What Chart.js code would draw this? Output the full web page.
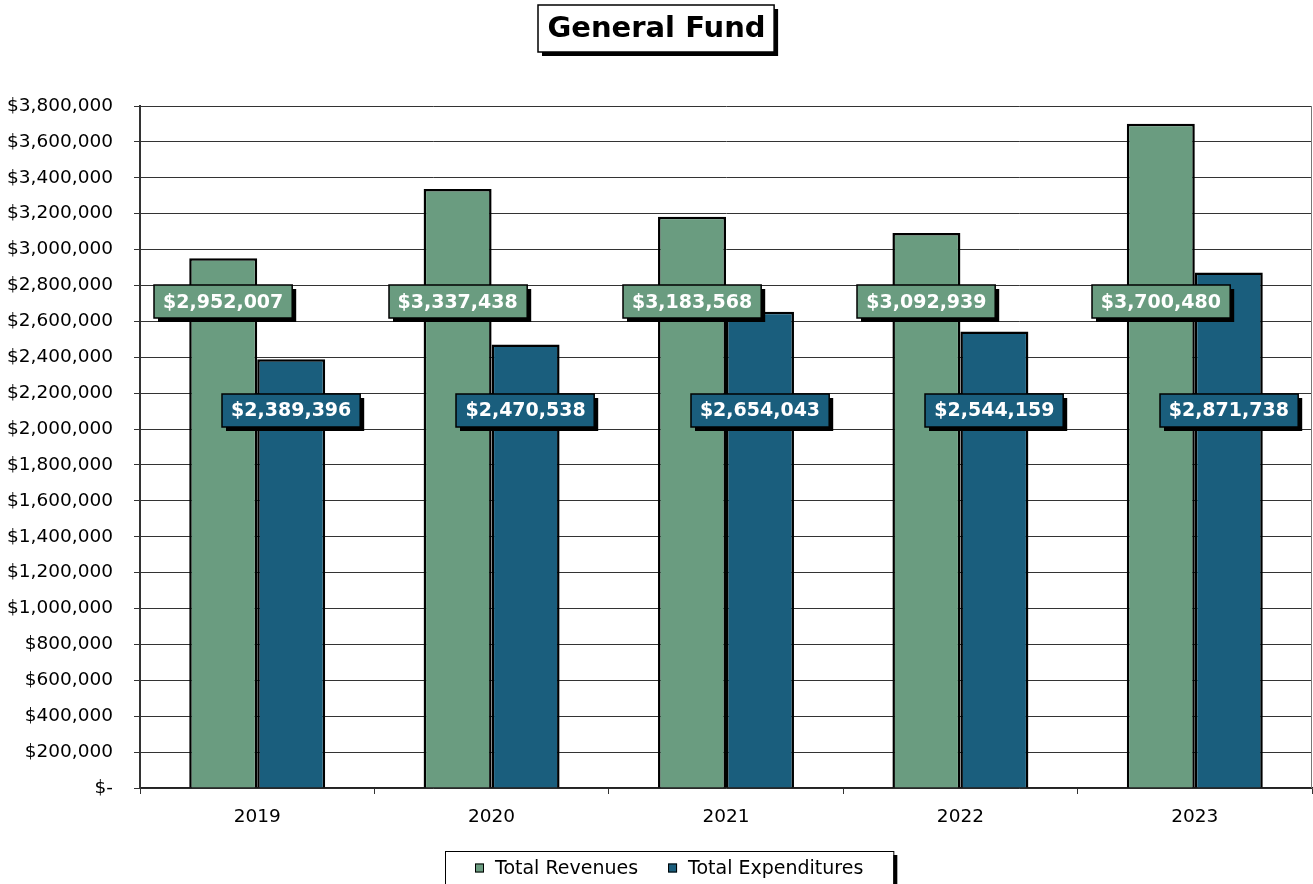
<!DOCTYPE html>
<html>
<head>
<meta charset="utf-8">
<title>General Fund</title>
<script src="https://cdn.jsdelivr.net/npm/chart.js@4"></script>
<style>
  html, body { margin: 0; padding: 0; background: #fff; }
  #wrap { width: 1313px; height: 884px; }
</style>
</head>
<body>
<div id="wrap"><canvas id="fundChart" width="1313" height="884"></canvas></div>
<script>
const years = ['2019', '2020', '2021', '2022', '2023'];
const revenues = [2952007, 3337438, 3183568, 3092939, 3700480];
const expenditures = [2389396, 2470538, 2654043, 2544159, 2871738];
const seriesNames = ['Total Revenues', 'Total Expenditures'];
const seriesColors = ['#6a9c80', '#1a5e7d'];
const chartTitle = 'General Fund';

const FONT = '"DejaVu Sans", sans-serif';
// value level where each series' labels sit (labels are not tied to bar tops)
const LABEL_LEVELS = [2708000, 2106000];

function fmtMoney(v) {
  if (v === 0) return '$-';
  return '$' + v.toLocaleString('en-US');
}

const decor = {
  id: 'decor',
  afterDraw(chart) {
    const { ctx, chartArea, scales } = chart;
    ctx.save();

    // right edge of plot
    ctx.strokeStyle = '#777';
    ctx.lineWidth = 1;
    ctx.beginPath();
    ctx.moveTo(chartArea.right - 0.5, chartArea.top);
    ctx.lineTo(chartArea.right - 0.5, chartArea.bottom);
    ctx.stroke();

    // value labels
    ctx.font = 'bold 19px ' + FONT;
    ctx.textAlign = 'center';
    ctx.textBaseline = 'middle';
    chart.data.datasets.forEach((ds, di) => {
      const meta = chart.getDatasetMeta(di);
      const y = scales.y.getPixelForValue(LABEL_LEVELS[di]);
      meta.data.forEach((bar, i) => {
        const text = fmtMoney(ds.data[i]);
        const w = ctx.measureText(text).width + 18;
        const h = 33;
        const x0 = Math.round(bar.x - w / 2);
        const y0 = Math.round(y - h / 2);
        ctx.fillStyle = '#000';
        ctx.fillRect(x0 + 4, y0 + 4, w, h);
        ctx.fillStyle = ds.backgroundColor;
        ctx.fillRect(x0, y0, w, h);
        ctx.strokeStyle = '#000';
        ctx.lineWidth = 1.5;
        ctx.strokeRect(x0, y0, w, h);
        ctx.fillStyle = '#fff';
        ctx.fillText(text, bar.x, y + 1);
      });
    });

    // title box
    const cx = chart.width / 2;
    ctx.font = 'bold 29px ' + FONT;
    const tw = ctx.measureText(chartTitle).width + 18;
    const tx = Math.round(cx - tw / 2), ty = 5, th = 47;
    ctx.fillStyle = '#000';
    ctx.fillRect(tx + 4, ty + 4, tw, th);
    ctx.fillStyle = '#fff';
    ctx.fillRect(tx, ty, tw, th);
    ctx.strokeStyle = '#000';
    ctx.lineWidth = 1.5;
    ctx.strokeRect(tx, ty, tw, th);
    ctx.fillStyle = '#000';
    ctx.fillText(chartTitle, cx, ty + th / 2 + 1);

    // legend box
    ctx.font = '19px ' + FONT;
    const mk = 9, gapT = 11, spacing = 30;
    const w1 = ctx.measureText(seriesNames[0]).width;
    const w2 = ctx.measureText(seriesNames[1]).width;
    const content = mk + gapT + w1 + spacing + mk + gapT + w2;
    const lw = content + 60, lh = 33;
    const lx = Math.round(669 - lw / 2), ly = 851;
    ctx.fillStyle = '#000';
    ctx.fillRect(lx + 4, ly + 4, lw, lh);
    ctx.fillStyle = '#fff';
    ctx.fillRect(lx, ly, lw, lh);
    ctx.strokeStyle = '#000';
    ctx.lineWidth = 1;
    ctx.strokeRect(lx + 0.5, ly + 0.5, lw, lh);
    let x = lx + 30;
    const my = ly + 17;
    ctx.textAlign = 'left';
    [w1, w2].forEach((w, i) => {
      ctx.fillStyle = seriesColors[i];
      ctx.fillRect(x, my - mk / 2, mk, mk);
      ctx.strokeStyle = '#000';
      ctx.lineWidth = 1;
      ctx.strokeRect(x + 0.5, my - mk / 2 + 0.5, mk - 1, mk - 1);
      ctx.fillStyle = '#000';
      ctx.fillText(seriesNames[i], x + mk + gapT, my + 1);
      x += mk + gapT + w + spacing;
    });

    ctx.restore();
  }
};

new Chart(document.getElementById('fundChart'), {
  type: 'bar',
  data: {
    labels: years,
    datasets: [
      { label: seriesNames[0], data: revenues, backgroundColor: seriesColors[0], borderColor: '#000', borderWidth: 2.5, borderSkipped: 'bottom' },
      { label: seriesNames[1], data: expenditures, backgroundColor: seriesColors[1], borderColor: '#000', borderWidth: 2.5, borderSkipped: 'bottom' }
    ]
  },
  options: {
    responsive: false,
    animation: false,
    devicePixelRatio: 1,
    layout: { padding: { top: 106, right: 1, bottom: 56, left: 0 } },
    datasets: { bar: { categoryPercentage: 0.58, barPercentage: 1 } },
    plugins: {
      legend: { display: false },
      title: { display: false },
      tooltip: { enabled: false }
    },
    scales: {
      x: {
        afterFit: s => { s.height = 40; },
        grid: { display: true, drawOnChartArea: false, drawTicks: true, tickLength: 6, color: '#333' },
        border: { color: '#222', width: 1.5 },
        ticks: { color: '#000', font: { family: FONT, size: 18.5 }, padding: 12 }
      },
      y: {
        min: 0,
        max: 3800000,
        afterFit: s => { s.width = 140; },
        grid: { color: '#333', lineWidth: 1, tickLength: 6 },
        border: { color: '#333', width: 2 },
        ticks: {
          stepSize: 200000,
          color: '#000',
          font: { family: FONT, size: 18.5 },
          padding: 21,
          callback: v => fmtMoney(v)
        }
      }
    }
  },
  plugins: [decor]
});
</script>
</body>
</html>
